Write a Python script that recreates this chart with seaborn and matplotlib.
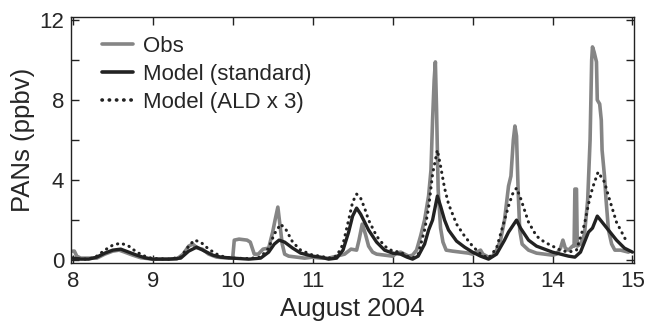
import numpy as np
import pandas as pd
import matplotlib
matplotlib.use("Agg")
import matplotlib.pyplot as plt
import seaborn as sns

# ---- data ----
obs_t = [8.00, 8.02, 8.05, 8.10, 8.30, 8.40, 8.50, 8.58, 8.65, 8.75, 8.85, 9.00, 9.30, 9.38, 9.45,
         9.50, 9.56, 9.62, 9.70, 9.80, 9.95, 10.00, 10.02, 10.08, 10.18, 10.22, 10.27, 10.32, 10.38,
         10.45, 10.50, 10.53, 10.565, 10.59, 10.62, 10.65, 10.70, 10.80, 10.90, 11.00, 11.10, 11.20,
         11.30, 11.40, 11.48, 11.55, 11.58, 11.62, 11.66, 11.70, 11.75, 11.80, 11.90, 12.00, 12.05,
         12.10, 12.15, 12.20, 12.25, 12.30, 12.35, 12.40, 12.45, 12.48, 12.50, 12.52, 12.535, 12.55,
         12.57, 12.60, 12.63, 12.67, 12.75, 12.85, 12.95, 13.00, 13.05, 13.10, 13.13, 13.20, 13.25,
         13.30, 13.35, 13.40, 13.45, 13.48, 13.51, 13.53, 13.55, 13.57, 13.59, 13.62, 13.70, 13.80,
         13.90, 14.00, 14.05, 14.10, 14.13, 14.16, 14.20, 14.25, 14.27, 14.28, 14.30, 14.31, 14.35,
         14.40, 14.44, 14.47, 14.49, 14.50, 14.52, 14.55, 14.56, 14.59, 14.61, 14.62, 14.65, 14.67,
         14.70, 14.74, 14.78, 14.85, 14.90, 14.95]
obs_v = [0.45, 0.45, 0.2, 0.1, 0.1, 0.3, 0.45, 0.5, 0.4, 0.25, 0.12, 0.05, 0.05, 0.3, 0.7,
         0.8, 0.6, 0.55, 0.3, 0.15, 0.1, 0.1, 1.0, 1.05, 1.0, 0.9, 0.3, 0.3, 0.55,
         0.6, 1.4, 2.0, 2.65, 1.8, 0.8, 0.3, 0.2, 0.15, 0.1, 0.15, 0.1, 0.1,
         0.2, 0.3, 0.55, 0.5, 1.0, 1.8, 1.3, 0.7, 0.4, 0.3, 0.25, 0.2, 0.35,
         0.4, 0.3, 0.2, 0.25, 0.5, 1.2, 2.0, 3.2, 4.5, 7.0, 9.0, 9.9, 7.5,
         3.5, 1.6, 0.9, 0.5, 0.45, 0.4, 0.35, 0.3, 0.4, 0.5, 0.3, 0.15, 0.2,
         0.5, 1.0, 2.0, 3.7, 4.2, 6.0, 6.7, 6.2, 3.5, 1.5, 0.8, 0.5, 0.35,
         0.3, 0.25, 0.3, 0.6, 1.0, 0.6, 0.5, 0.7, 0.7, 3.55, 3.55, 0.7, 0.8,
         1.3, 3.0, 6.0, 10.0, 10.65, 10.4, 9.9, 8.0, 7.8, 7.0, 5.5, 4.2, 3.0,
         1.5, 0.8, 0.5, 0.5, 0.45, 0.4]

std_t = [8.0, 8.1, 8.2, 8.3, 8.4, 8.5, 8.6, 8.7, 8.8, 8.9, 9.0, 9.2, 9.35, 9.45, 9.55, 9.65, 9.75,
         9.85, 10.0, 10.2, 10.35, 10.45, 10.52, 10.58, 10.65, 10.75, 10.85, 11.0, 11.1, 11.2, 11.3,
         11.38, 11.45, 11.5, 11.55, 11.6, 11.65, 11.7, 11.8, 11.9, 12.0, 12.1, 12.18, 12.25, 12.32,
         12.4, 12.45, 12.5, 12.56, 12.6, 12.65, 12.7, 12.8, 12.9, 13.0, 13.1, 13.2, 13.3, 13.4,
         13.45, 13.5, 13.55, 13.6, 13.7, 13.8, 13.9, 14.0, 14.1, 14.2, 14.28, 14.35, 14.4, 14.45,
         14.5, 14.56, 14.62, 14.7, 14.8, 14.9, 15.0]
std_v = [0.1, 0.05, 0.05, 0.15, 0.35, 0.5, 0.55, 0.4, 0.25, 0.12, 0.05, 0.05, 0.1, 0.45, 0.65, 0.45, 0.25,
         0.15, 0.1, 0.05, 0.1, 0.4, 0.8, 1.0, 0.9, 0.6, 0.35, 0.2, 0.15, 0.05, 0.1,
         0.5, 1.4, 2.2, 2.6, 2.3, 1.9, 1.5, 0.9, 0.5, 0.35, 0.3, 0.15, 0.05, 0.2,
         0.8, 1.5, 2.0, 3.2, 2.7, 2.0, 1.5, 0.95, 0.65, 0.4, 0.2, 0.05, 0.3, 1.0,
         1.4, 1.7, 2.0, 1.6, 1.0, 0.7, 0.55, 0.4, 0.3, 0.2, 0.15, 0.4, 0.9, 1.4,
         1.6, 2.2, 1.9, 1.5, 1.0, 0.6, 0.4]

ald_t = [8.0, 8.1, 8.2, 8.3, 8.4, 8.5, 8.6, 8.7, 8.8, 8.9, 9.0, 9.2, 9.35, 9.45, 9.52, 9.6, 9.7, 9.8,
         9.9, 10.0, 10.2, 10.35, 10.45, 10.52, 10.6, 10.67, 10.75, 10.85, 11.0, 11.1, 11.2, 11.3,
         11.38, 11.45, 11.5, 11.55, 11.6, 11.65, 11.7, 11.8, 11.9, 12.0, 12.1, 12.18, 12.25, 12.32,
         12.4, 12.45, 12.5, 12.56, 12.6, 12.65, 12.7, 12.8, 12.9, 13.0, 13.1, 13.2, 13.3, 13.4,
         13.45, 13.5, 13.55, 13.6, 13.7, 13.8, 13.9, 14.0, 14.1, 14.2, 14.3, 14.4, 14.45, 14.5,
         14.57, 14.65, 14.7, 14.8, 14.93]
ald_v = [0.1, 0.05, 0.05, 0.2, 0.5, 0.75, 0.85, 0.7, 0.4, 0.2, 0.08, 0.05, 0.15, 0.7, 1.0, 0.9, 0.55, 0.3,
         0.15, 0.1, 0.08, 0.15, 0.6, 1.3, 1.8, 1.5, 0.9, 0.5, 0.25, 0.2, 0.1, 0.2,
         0.8, 2.0, 2.9, 3.3, 3.1, 2.6, 2.0, 1.2, 0.7, 0.45, 0.4, 0.2, 0.1, 0.3,
         1.5, 2.6, 4.3, 5.5, 4.7, 3.6, 2.8, 1.8, 1.2, 0.7, 0.3, 0.1, 0.6, 2.0,
         2.7, 3.3, 3.6, 3.1, 1.9, 1.2, 0.9, 0.7, 0.5, 0.4, 0.5, 1.8, 2.8, 3.6,
         4.4, 3.9, 3.2, 1.9, 0.9]

labels = ["Obs", "Model (standard)", "Model (ALD x 3)"]
x_ticks = [8, 9, 10, 11, 12, 13, 14, 15]
y_ticks = [0, 4, 8, 12]
x_label = "August 2004"
y_label = "PANs (ppbv)"

# ---- style ----
sns.set_style("ticks")
plt.rcParams['font.family'] = ['Liberation Sans', 'DejaVu Sans']
plt.rcParams['font.size'] = 16

fig = plt.figure(figsize=(6.47, 3.31), dpi=100)
ax = fig.add_axes([0.110, 0.205, 0.870, 0.744])

obs_df = pd.DataFrame({"t": obs_t, "v": obs_v})
std_df = pd.DataFrame({"t": std_t, "v": std_v})
ald_df = pd.DataFrame({"t": ald_t, "v": ald_v})

sns.lineplot(data=obs_df, x="t", y="v", ax=ax, color="#858585", linewidth=2.6,
             label=labels[0], sort=False)
sns.lineplot(data=std_df, x="t", y="v", ax=ax, color="#222222", linewidth=2.4,
             label=labels[1], sort=False)
sns.lineplot(data=ald_df, x="t", y="v", ax=ax, color="#222222", linewidth=2.2,
             label=labels[2], sort=False)
ald_line = ax.get_lines()[2]
ald_line.set_linestyle((0, (0.1, 1.9)))
ald_line.set_dash_capstyle("round")

ax.set_xlim(7.98, 15.02)
ax.set_ylim(-0.15, 12.15)
ax.set_xticks(x_ticks)
ax.set_yticks(y_ticks)
ax.set_yticks([2, 6, 10], minor=True)
ax.tick_params(axis="both", which="both", direction="in", top=True, right=True,
               labelsize=16, color="#222222", width=1.0, length=6)
ax.tick_params(axis="x", which="major", pad=6)
ax.tick_params(axis="y", which="major", pad=5)
for s in ax.spines.values():
    s.set_linewidth(1.0)
    s.set_color("#222222")

ax.set_xlabel(x_label, fontsize=18.5, labelpad=3)
ax.set_ylabel(y_label, fontsize=18.5, labelpad=3)

leg = ax.legend(loc="upper left", frameon=False, fontsize=16, handlelength=1.4,
                handletextpad=0.45, labelspacing=0.31, borderaxespad=0.0,
                borderpad=0.0, bbox_to_anchor=(0.055, 0.922))
for h in leg.get_lines():
    h.set_linewidth(2.6)
leg.get_lines()[2].set_linestyle((0, (0.1, 1.9)))
leg.get_lines()[2].set_dash_capstyle("round")

fig.savefig("out.png", dpi=100)
